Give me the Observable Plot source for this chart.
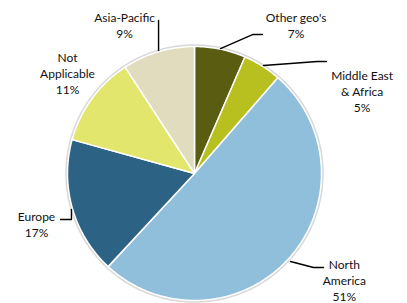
<!DOCTYPE html>
<html>
<head>
<meta charset="utf-8">
<script src="https://cdn.jsdelivr.net/npm/d3@7"></script>
<script src="https://cdn.jsdelivr.net/npm/@observablehq/plot@0.6"></script>
<style>
  html, body { margin: 0; padding: 0; background: #fff; }
  #chart svg { display: block; }
</style>
</head>
<body>
<div id="chart"></div>
<script>
// ---- Data ----
const regions = ["Other geo's", "Middle East & Africa", "North America", "Europe", "Not Applicable", "Asia-Pacific"];
const shares = [6.5, 4.9, 50.5, 17.4, 11.5, 9.2];
const labelText = ["Other geo's\n7%", "Middle East\n& Africa\n5%", "North\nAmerica\n51%", "Europe\n17%", "Not\nApplicable\n11%", "Asia-Pacific\n9%"];

// ---- Styling / layout (not data) ----
const colors = ["#5a5c12", "#b8c020", "#90bfdc", "#2c6284", "#e2e66c", "#e1dcbd"];
const labelAnchor = [[0.80, 1.17], [1.32, 0.65], [1.18, -0.835], [-1.244, -0.40], [-1.0, 0.795], [-0.55, 1.17]];
const leaders = [
  [[0.205, 0.984], [0.457, 1.094], [0.535, 1.094]],
  [[0.543, 0.850], [0.969, 0.882], [1.039, 0.882]],
  [[0.756, -0.693], [0.937, -0.740], [1.016, -0.740]],
  [[-0.969, -0.283], [-0.969, -0.362], [-1.055, -0.362]],
  null,
  [[-0.283, 0.969], [-0.283, 1.205]]
];

const W = 407, H = 303, cx = 194, cy = 173, R = 127;

const arcs = d3.pie().sort(null).value(d => d)(shares);

// Build slice polygons (unit radius)
const slicePts = [];
arcs.forEach((a, i) => {
  slicePts.push({x: 0, y: 0, k: i});
  const n = Math.max(4, Math.ceil((a.endAngle - a.startAngle) / (Math.PI / 180)));
  for (let j = 0; j <= n; j++) {
    const t = a.startAngle + (a.endAngle - a.startAngle) * j / n;
    slicePts.push({x: Math.sin(t), y: Math.cos(t), k: i});
  }
  slicePts.push({x: 0, y: 0, k: i});
});

// outer halo circle
const halo = d3.range(0, 361).map(d => ({x: 1.008 * Math.sin(d * Math.PI / 180), y: 1.008 * Math.cos(d * Math.PI / 180)}));

const leaderPts = [];
leaders.forEach((l, i) => { if (l) l.forEach(p => leaderPts.push({x: p[0], y: p[1], k: i})); });

const labels = labelText.map((t, i) => ({x: labelAnchor[i][0], y: labelAnchor[i][1], t}));

const chart = Plot.plot({
  width: W,
  height: H,
  margin: 0,
  x: {domain: [-1, 1], range: [cx - R, cx + R], axis: null},
  y: {domain: [-1, 1], range: [cy + R, cy - R], axis: null},
  style: {background: "#fff", fontFamily: "Lato, 'Open Sans', sans-serif", overflow: "visible"},
  marks: [
    Plot.line(halo, {x: "x", y: "y", stroke: "#d9d9d9", strokeWidth: 2.5}),
    Plot.line(slicePts, {x: "x", y: "y", z: "k", fill: d => colors[d.k], stroke: "#fff", strokeWidth: 1.5, strokeLinejoin: "round", curve: "linear"}),
    Plot.line(leaderPts, {x: "x", y: "y", z: "k", stroke: "#000", strokeWidth: 1.4}),
    Plot.text(labels, {x: "x", y: "y", text: "t", fontSize: 12, lineHeight: 1.33, lineAnchor: "middle", textAnchor: "middle", fill: "#111"})
  ]
});
document.getElementById("chart").appendChild(chart);
</script>
</body>
</html>
